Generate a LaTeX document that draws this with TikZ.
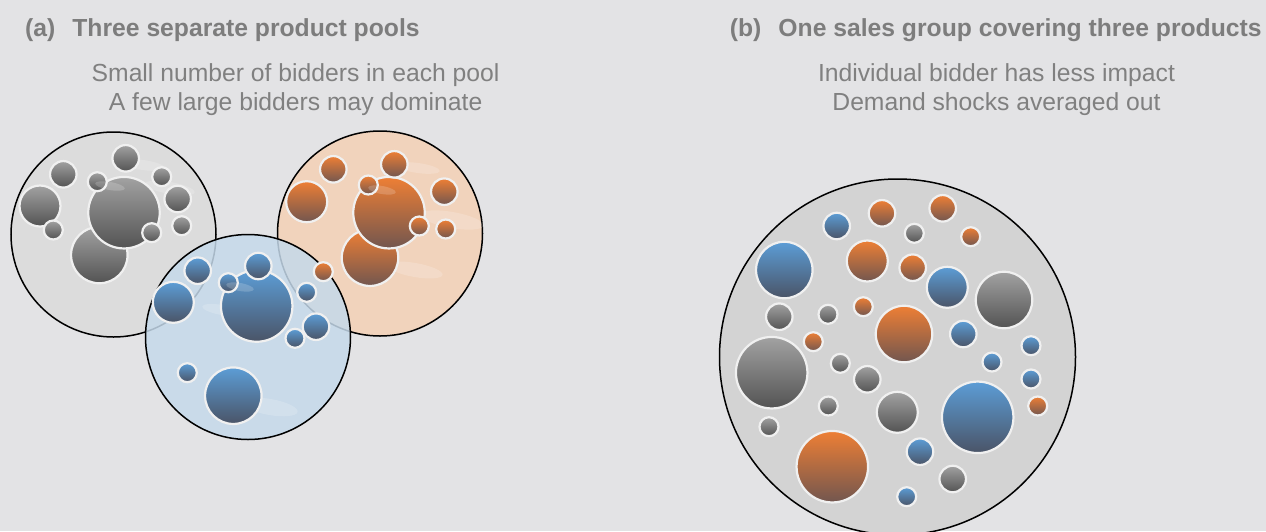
\documentclass[tikz,border=0pt]{standalone}
\usepackage{fontspec}
\setmainfont{Liberation Sans}
\definecolor{bgc}{HTML}{E3E3E5}
\definecolor{ttlc}{HTML}{7D7D7D}
\definecolor{subc}{HTML}{808080}
\definecolor{poolgray}{HTML}{DCDCDC}
\definecolor{poolorange}{HTML}{F1D3BC}
\definecolor{poolblue}{HTML}{C5D9EA}
\definecolor{poolall}{HTML}{D3D3D3}
\definecolor{gtop}{HTML}{A2A2A2}
\definecolor{gbot}{HTML}{535353}
\definecolor{otop}{HTML}{EE7F35}
\definecolor{obot}{HTML}{72564F}
\definecolor{btop}{HTML}{5C9DD6}
\definecolor{bbot}{HTML}{4A5467}
\tikzstyle{ttl} = [font={\fontsize{24.7}{29}\selectfont\bfseries}, text=ttlc, inner sep=0pt]
\tikzstyle{sub} = [font={\fontsize{24.7}{29}\selectfont}, text=subc, inner sep=0pt]
\tikzstyle{pool} = [circle, draw=black, line width=1.5pt, inner sep=0pt, minimum size=205pt]
\tikzstyle{bub} = [circle, draw=white!94!black, line width=2.2pt, inner sep=0pt, shading angle=45]
\tikzstyle{gb} = [bub, top color=gtop, bottom color=gbot]
\tikzstyle{ob} = [bub, top color=otop, bottom color=obot]
\tikzstyle{bb} = [bub, top color=btop, bottom color=bbot]
\tikzstyle{sz1} = [minimum size=19pt]
\tikzstyle{sz2} = [minimum size=26.5pt]
\tikzstyle{sz3} = [minimum size=41pt]
\tikzstyle{sz4} = [minimum size=56.5pt]
\tikzstyle{sz5} = [minimum size=71.5pt]
\tikzstyle{wisp} = [white, opacity=0.18]

\begin{document}
\begin{tikzpicture}[x=1pt, y=-1pt]
    \fill[bgc] (0,0) rectangle (1266,531);
    \useasboundingbox (0,0) rectangle (1266,531);
    % headings
    \node[ttl, anchor=base west](ttlA) at (25,36.7){(a)\hspace{17pt}Three separate product pools};
    \node[ttl, anchor=base west](ttlB) at (729.7,36.7){(b)\hspace{17pt}One sales group covering three products};
    \node[sub, anchor=base](subA1) at (295.6,81.7){Small number of bidders in each pool};
    \node[sub, anchor=base](subA2) at (295.6,110){A few large bidders may dominate};
    \node[sub, anchor=base](subB1) at (996.5,81.7){Individual bidder has less impact};
    \node[sub, anchor=base](subB2) at (996.5,110){Demand shocks averaged out};

    % (a) gray pool
    \node[pool, fill=poolgray](poolG) at (113.5,234.5){};
    \fill[wisp] (143,165) ellipse [x radius=22, y radius=5, rotate=-8];
    \fill[wisp] (170,188) ellipse [x radius=25, y radius=6, rotate=-10];
    \node[gb,sz2](g1) at (63.3,174.3){};
    \node[gb,sz2](g2) at (125.7,158.3){};
    \node[gb,sz3](g3) at (40,206){};
    \node[gb,sz4](g9) at (99.3,255){};
    \node[gb,sz5](g6) at (124,212.7){};
    \node[gb,sz1](g4) at (97.3,181.7){};
    \node[gb,sz1](g5) at (161.7,176.7){};
    \node[gb,sz2](g7) at (177.7,199){};
    \node[gb,sz1](g8) at (53.3,230){};
    \node[gb,sz1](g10) at (151.7,232.7){};
    \node[gb,sz1](g11) at (181.7,225.7){};
    \fill[wisp] (110,186) ellipse [x radius=15, y radius=4, rotate=-10];

    % (a) orange pool
    \node[pool, fill=poolorange](poolO) at (380,233.5){};
    \fill[wisp] (418,168) ellipse [x radius=22, y radius=5, rotate=-8];
    \fill[wisp] (452,220) ellipse [x radius=32, y radius=8, rotate=-10];
    \fill[wisp] (415,270) ellipse [x radius=28, y radius=7, rotate=-10];
    \node[ob,sz4](o7) at (370,257.7){};
    \node[ob,sz5](o6) at (389,212.7){};
    \node[ob,sz2](o1) at (333.3,169.3){};
    \node[ob,sz2](o2) at (394.3,164.3){};
    \node[ob,sz3](o3) at (306.7,201.7){};
    \node[ob,sz1](o4) at (368.3,185){};
    \node[ob,sz2](o5) at (444.3,191.7){};
    \node[ob,sz1](o8) at (419.3,226){};
    \node[ob,sz1](o9) at (445.7,229){};
    \fill[wisp] (382,190) ellipse [x radius=14, y radius=4, rotate=-10];

    % (a) blue pool
    \node[pool, fill=poolblue, fill opacity=0.85, draw opacity=1](poolB) at (248,337){};
    \fill[wisp] (270,407) ellipse [x radius=28, y radius=8, rotate=-10];
    \fill[wisp] (222,310) ellipse [x radius=20, y radius=5, rotate=-10];
    \node[bb,sz4](b10) at (233.3,395.7){};
    \node[bb,sz5](b5) at (256.7,306){};
    \node[bb,sz2](b1) at (197.7,270.7){};
    \node[bb,sz2](b2) at (258.3,266){};
    \node[bb,sz3](b3) at (173.3,302.3){};
    \node[bb,sz1](b4) at (228.3,282.7){};
    \node[bb,sz1](b6) at (306.7,292.3){};
    \node[bb,sz2](b7) at (316,326.7){};
    \node[bb,sz1](b8) at (295,338.3){};
    \node[bb,sz1](b9) at (187.3,372.7){};
    \fill[wisp] (240,287) ellipse [x radius=14, y radius=4, rotate=-10];
    \node[ob,sz1](o10) at (323.3,271.7){};

    % (b) one group
    \node[pool, fill=poolall, minimum size=356pt](poolAll) at (897.5,357){};
    \node[bb,sz2](c1) at (836.7,226){};
    \node[ob,sz2](c2) at (882,213.3){};
    \node[ob,sz2](c3) at (942.7,208.3){};
    \node[gb,sz1](c4) at (914.3,233.3){};
    \node[ob,sz1](c5) at (970.7,236.7){};
    \node[bb,sz4](c6) at (784.3,270){};
    \node[ob,sz3](c7) at (867.3,261){};
    \node[ob,sz2](c8) at (912.7,267.7){};
    \node[bb,sz3](c9) at (947.3,287.3){};
    \node[gb,sz4](c10) at (1004,300){};
    \node[gb,sz2](c11) at (779.3,316.7){};
    \node[gb,sz1](c12) at (828,314.3){};
    \node[ob,sz1](c13) at (863.3,306.7){};
    \node[ob,sz4](c14) at (904,334){};
    \node[bb,sz2](c15) at (963.3,334){};
    \node[bb,sz1](c16) at (1031,345.7){};
    \node[ob,sz1](c17) at (813.3,341.7){};
    \node[gb,sz5](c18) at (771.7,372.7){};
    \node[gb,sz1](c19) at (840.3,363.3){};
    \node[bb,sz1](c20) at (992,362){};
    \node[gb,sz2](c21) at (867.3,379.3){};
    \node[bb,sz1](c22) at (1031,379){};
    \node[ob,sz1](c23) at (1037.7,406){};
    \node[gb,sz1](c24) at (828.3,406){};
    \node[gb,sz3](c25) at (897.3,412.3){};
    \node[bb,sz5](c26) at (977.7,417.3){};
    \node[gb,sz1](c27) at (769,426.7){};
    \node[bb,sz2](c28) at (920,451.7){};
    \node[ob,sz5](c29) at (832.3,466.7){};
    \node[gb,sz2](c30) at (952.7,479){};
    \node[bb,sz1](c31) at (906.7,496.7){};
\end{tikzpicture}
\end{document}
